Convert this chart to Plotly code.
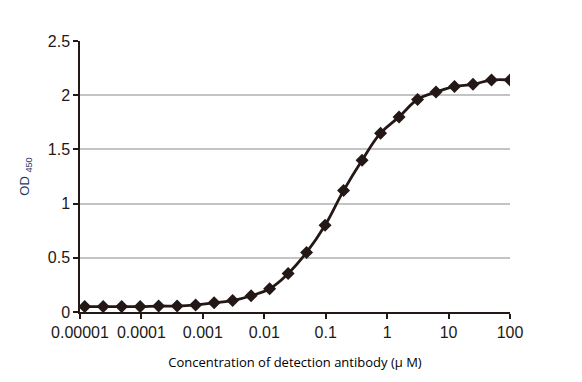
import plotly.graph_objects as go

# Two-fold dilutions of detection antibody (µM), from 100 down
conc = [100 / 2**i for i in range(23, -1, -1)]
od450 = [0.05, 0.05, 0.05, 0.05, 0.055, 0.055, 0.065, 0.085, 0.105, 0.15,
         0.215, 0.355, 0.55, 0.80, 1.12, 1.40, 1.65, 1.80, 1.96, 2.03,
         2.08, 2.10, 2.14, 2.14]

x_tickvals = [0.00001, 0.0001, 0.001, 0.01, 0.1, 1, 10, 100]
x_ticktext = ["0.00001", "0.0001", "0.001", "0.01", "0.1", "1", "10", "100"]
y_tickvals = [0, 0.5, 1, 1.5, 2, 2.5]
y_ticktext = ["0", "0.5", "1", "1.5", "2", "2.5"]

fig = go.Figure()
fig.add_trace(go.Scatter(
    x=conc, y=od450, mode="lines+markers",
    line=dict(color="#231815", width=2.8, shape="spline", smoothing=1.2),
    marker=dict(symbol="diamond", size=10, color="#231815"),
    showlegend=False,
))

tick_font = dict(family="Liberation Sans, Arial", size=16, color="#231815")

# page body has an 8px default margin, so the figure is sized to fit the window
fig.update_layout(
    width=574, height=374,
    margin=dict(l=72, r=72, t=33, b=70),
    paper_bgcolor="white", plot_bgcolor="white",
    xaxis=dict(
        type="log", range=[-5, 2], automargin=False,
        tickvals=x_tickvals, ticktext=x_ticktext,
        ticks="outside", ticklen=5, tickwidth=1.5, tickcolor="#231815",
        showline=True, linecolor="#231815", linewidth=1.5,
        showgrid=False, zeroline=False,
        tickfont=tick_font,
        title=dict(text="Concentration of detection antibody (μ M)",
                   font=dict(family="Open Sans", size=13, color="black"),
                   standoff=18),
    ),
    yaxis=dict(
        range=[0, 2.5], automargin=False,
        tickvals=y_tickvals, ticktext=y_ticktext,
        ticks="outside", ticklen=5, tickwidth=1.5, tickcolor="#231815",
        showline=True, linecolor="#231815", linewidth=1.5,
        showgrid=True, gridcolor="#c4c4c4", gridwidth=1.5,
        zeroline=False,
        tickfont=tick_font,
        title=dict(text="OD <sub>450</sub>",
                   font=dict(family="Liberation Sans, Arial", size=13, color="#1f3a68"),
                   standoff=15),
    ),
)

fig.write_html("out.html")
